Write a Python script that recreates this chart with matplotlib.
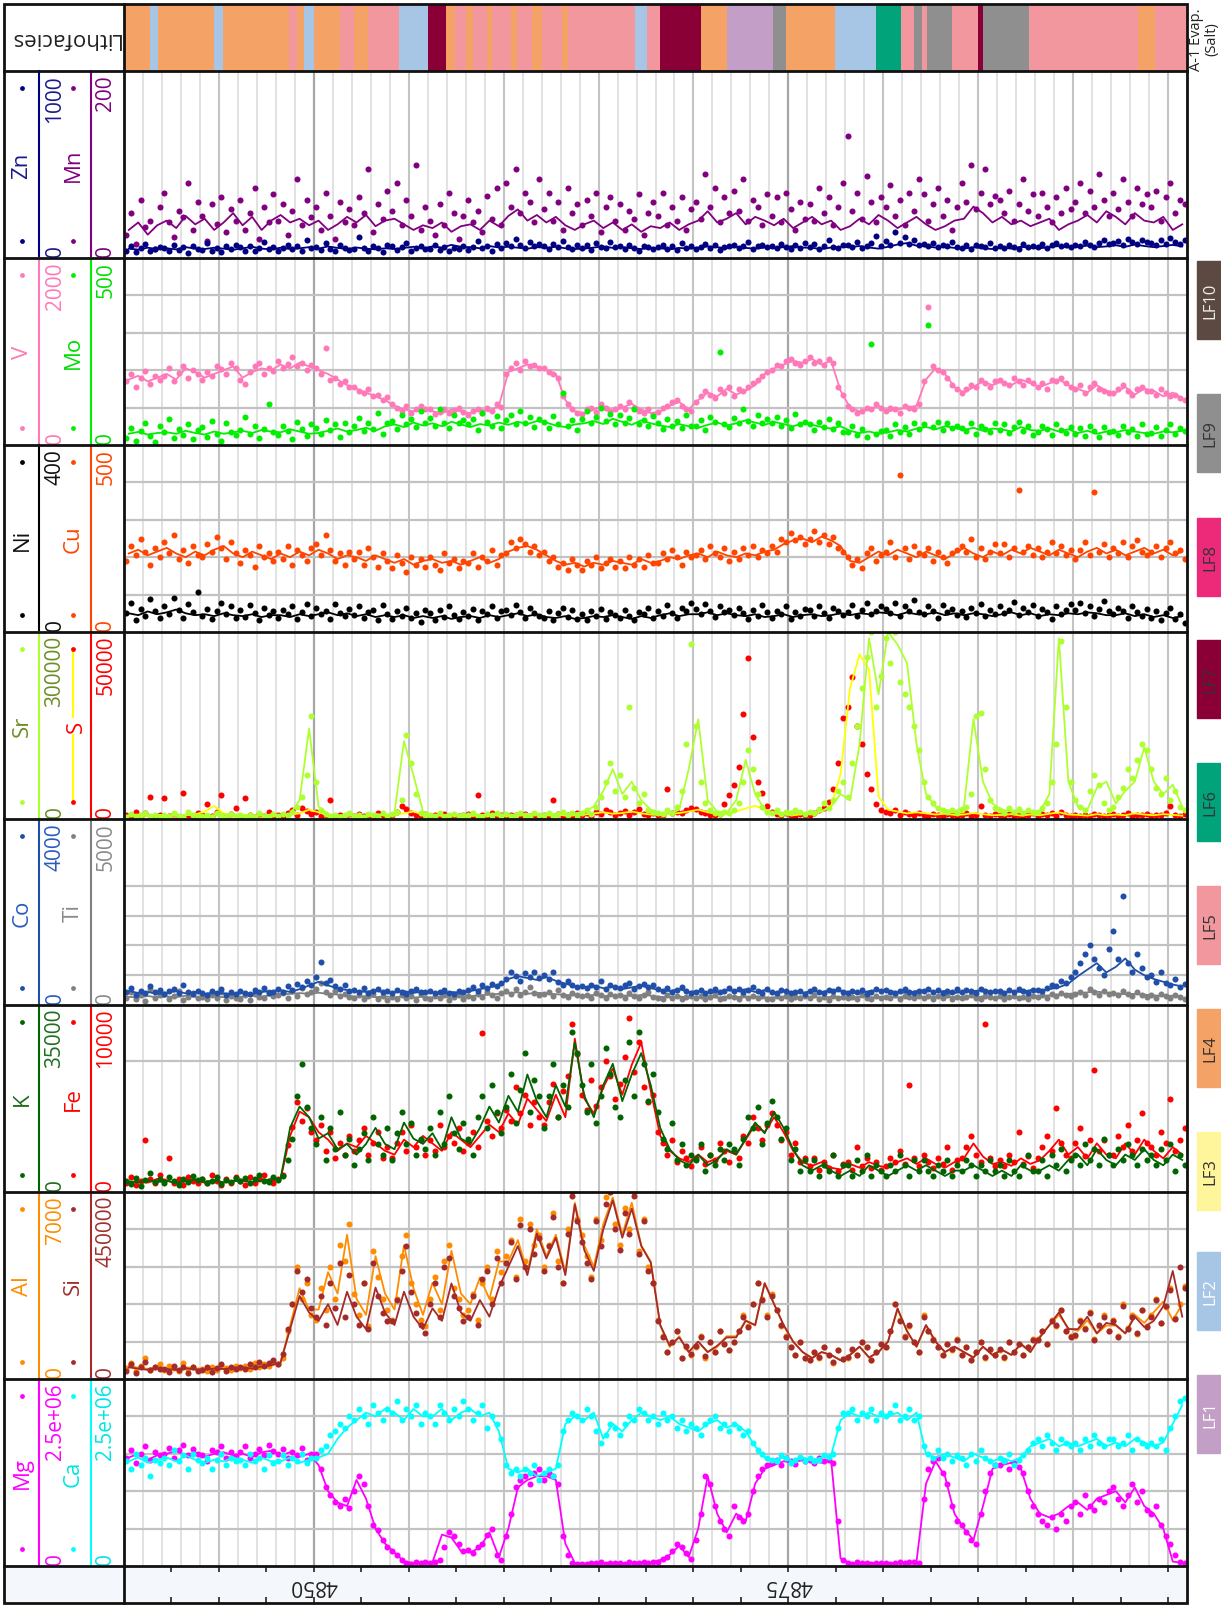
import numpy as np
import matplotlib
matplotlib.use('Agg')
import matplotlib.pyplot as plt
from matplotlib.patches import Rectangle

plt.rcParams['font.family'] = ['Open Sans', 'DejaVu Sans']

W, H = 1221, 1606
TOP_DEPTH, BASE_DEPTH = 4840, 4896

# ---------------- lithofacies log (top, base, facies) ----------------
facies_top = [4840.0, 4841.36, 4841.8, 4844.76, 4845.19, 4848.7, 4849.1, 4849.5, 4850.0, 4851.4,
              4852.1, 4852.86, 4854.48, 4855.99, 4856.97, 4857.45, 4858.0, 4858.4, 4859.1, 4859.4,
              4860.4, 4860.7, 4861.5, 4862.04, 4863.1, 4863.4, 4866.9, 4867.55, 4868.25, 4870.41,
              4871.76, 4874.19, 4874.89, 4877.43, 4879.59, 4880.94, 4881.64, 4882.02, 4882.3, 4883.64,
              4884.99, 4885.26, 4887.69, 4893.4, 4894.3]
facies_base = facies_top[1:] + [4896.0]
facies_code = ['LF4', 'LF2', 'LF4', 'LF2', 'LF4', 'LF5', 'LF4', 'LF2', 'LF4', 'LF5',
               'LF4', 'LF5', 'LF2', 'LF7', 'LF4', 'LF5', 'LF4', 'LF5', 'LF4', 'LF5',
               'LF4', 'LF5', 'LF4', 'LF5', 'LF4', 'LF5', 'LF2', 'LF5', 'LF7', 'LF4',
               'LF1', 'LF9', 'LF4', 'LF2', 'LF6', 'LF5', 'LF9', 'LF5', 'LF9', 'LF5',
               'LF7', 'LF9', 'LF5', 'LF4', 'LF5']
lf_names = ['LF10', 'LF9', 'LF8', 'LF7', 'LF6', 'LF5', 'LF4', 'LF3', 'LF2', 'LF1']
lf_colors = ['#5c4a42', '#8f8f8f', '#ec2a79', '#8a0036', '#00a37a', '#f3979f', '#f5a266', '#fff59a', '#a7c6e6', '#c39fc8']
lf_text = ['#eeeeee', '#333333', '#333333', '#333333', '#333333', '#333333', '#333333', '#333333', '#ffffff', '#ffffff']

# ---------------- track 1: Zn (0-1000), Mn (0-200) ----------------
zn_pts = [40,62,30,55,75,38,48,60, 52,35,70,44,58,28,66,50, 45,80,38,56,30,62,48,72, 58,40,66,35,52,88,46,60,
          36,55,70,48,62,40,95,52, 60,44,78,50,35,68,56,42, 48,110,55,40,65,52,30,70, 62,45,58,80,38,54,66,48,
          50,72,42,60,35,56,48,64, 44,58,90,52,66,40,74,56, 80,62,100,70,55,88,64,75, 66,50,74,58,92,60,48,70,
          54,68,45,78,60,52,84,58, 62,48,70,55,40,66,58,50, 58,72,50,64,45,80,56,62, 48,60,75,52,68,44,58,66,
          70,55,62,85,50,66,72,58, 64,52,76,60,48,70,56,82, 58,74,50,66,95,60,54,68, 72,60,84,56,66,78,120,64,
          90,70,140,82,110,76,95,68, 74,62,80,58,70,66,88,60, 56,68,50,72,62,58,80,54, 64,52,70,60,48,76,58,66,
          60,74,56,68,82,62,70,58, 70,64,88,72,60,80,96,74, 78,92,70,104,84,76,98,86, 82,70,96,76,108,88,74,94]
zn_line = [50,45,55,48, 52,46,58,50, 48,55,50,44, 52,60,50,46, 55,48,52,58, 50,62,54,48, 56,50,46,52,
           48,54,60,52, 62,56,70,60, 58,52,64,56, 60,55,50,58, 54,60,52,48, 50,56,62,54, 58,52,48,55,
           52,46,54,50, 56,62,58,52, 60,54,50,56, 52,58,64,56, 54,48,56,60, 58,64,56,50, 60,72,80,66,
           62,56,60,54, 50,58,52,48, 56,50,60,54, 52,58,64,56, 60,66,58,62, 68,60,72,64, 58,64,70,62]
mn_pts = [25,48,15,62,33,40,10,55, 70,38,22,50,44,80,30,60, 45,18,58,36,65,28,52,40, 62,30,48,75,20,55,38,68,
          40,58,25,50,85,35,62,44, 55,30,70,45,20,60,38,52, 35,65,48,95,28,58,42,72, 50,80,35,62,45,100,30,55,
          40,25,58,35,70,48,20,45, 62,38,50,28,66,42,75,35, 80,55,95,48,70,60,38,85, 52,70,40,60,30,75,48,58,
          35,62,45,70,28,55,65,40, 58,30,50,42,68,25,48,60, 45,70,35,55,40,65,30,52, 60,42,90,55,75,38,65,48,
          72,50,85,40,62,55,35,68, 45,65,38,70,52,30,60,42, 58,40,75,48,65,35,55,80, 130,50,70,42,88,60,38,65,
          55,78,45,62,35,70,50,85, 68,40,58,75,45,62,30,55, 80,60,100,52,70,95,58,66, 62,48,72,40,58,85,50,68,
          45,70,55,38,65,48,75,52, 60,80,48,72,55,90,62,45, 70,52,85,60,45,75,58,68, 55,72,40,65,80,48,62,58]
mn_line = [30,38,25,35, 40,32,45,36, 42,30,38,48, 35,44,30,40, 46,38,42,35, 40,30,36,44, 38,46,34,40,
           42,36,30,35, 32,38,28,34, 36,30,40,34, 45,52,40,46, 38,44,35,30, 36,40,32,38, 30,36,28,34,
           32,38,30,36, 40,50,38,42, 48,36,44,40, 35,42,32,38, 44,36,40,30, 34,42,36,46, 40,32,38,44,
           36,30,34,40, 42,55,48,38, 44,36,40,34, 38,42,30,36, 40,46,38,50, 44,36,48,40, 38,44,30,36]

# ---------------- track 2: V (0-2000), Mo (0-500) ----------------
v_pts = [680,760,620,720,790,650,740,700, 740,820,680,770,850,720,800,760, 700,780,740,850,810,760,880,820,
         700,650,780,840,880,760,820,790, 900,820,870,940,840,880,800,860, 820,760,1040,700,720,650,680,620,
         620,580,560,600,520,540,480,510, 440,400,360,420,340,380,420,390, 380,330,350,390,340,370,400,350,
         320,360,380,340,400,360,440,410, 760,820,880,800,900,840,860,820, 820,780,760,720,520,440,380,340,
         330,380,400,350,440,400,360,380, 420,380,460,400,360,340,380,320, 350,400,420,460,480,420,380,360,
         460,520,580,540,500,600,560,620, 520,600,580,620,660,700,740,780, 800,860,840,900,920,880,860,900,
         940,880,900,860,920,880,620,540, 420,380,340,360,400,380,440,400, 360,400,380,340,420,400,380,440,
         680,1480,840,800,780,720,640,600, 560,600,640,620,700,660,620,680, 700,660,640,720,680,640,700,660,
         620,660,600,700,680,720,660,620, 600,640,560,620,660,600,580,560, 560,600,640,580,540,600,620,580,
         580,540,600,560,520,540,500,480]
v_line = [700,740,680,720, 760,700,820,780, 720,760,800,840, 720,780,820,800, 860,820,880,840, 800,760,700,640,
          600,560,520,480, 420,380,360,400, 360,340,380,360, 340,380,360,420, 780,820,860,840, 800,760,480,360,
          340,380,420,360, 400,440,380,340, 360,420,460,380, 480,560,520,600, 540,580,640,760, 820,860,900,880,
          920,860,900,580, 400,360,380,420, 360,380,400,420, 700,820,760,620, 560,620,680,640, 680,640,700,660,
          620,660,700,640, 600,560,640,580, 560,620,540,600, 580,520,560,500]
mo_pts = [20,45,12,38,60,25,8,50, 35,70,18,42,28,55,15,40, 48,22,65,30,12,58,36,26, 40,75,30,52,20,44,110,35,
          28,50,38,15,62,42,24,55, 45,30,68,40,55,22,60,36, 50,72,38,60,44,85,30,58, 65,42,80,55,70,48,90,60,
          72,50,95,60,45,80,58,68, 55,70,40,85,62,50,78,45, 68,80,55,92,60,75,48,70, 62,45,78,55,140,50,68,40,
          70,90,58,75,100,65,82,55, 80,60,72,95,55,68,50,78, 58,42,70,50,65,45,80,52, 50,68,40,75,62,250,55,48,
          72,58,95,65,50,80,60,70, 60,75,50,68,45,82,55,62, 55,40,62,48,70,42,58,35, 35,50,28,42,22,270,30,38,
          40,25,55,35,48,30,60,42, 55,320,48,62,40,58,45,52, 45,38,60,30,52,42,35,58, 40,55,32,48,62,38,50,28,
          35,50,42,28,55,40,32,48, 30,45,25,52,38,22,48,35, 38,28,50,35,42,25,55,30, 32,48,25,40,55,30,45,38]
mo_line = [30,35,28,32, 34,30,38,32, 28,36,30,34, 38,32,40,36, 34,42,36,30, 32,38,44,36, 40,46,38,50,
           55,48,60,52, 58,50,62,55, 48,56,52,60, 54,62,56,64, 60,52,48,55, 58,64,56,70, 62,54,66,58,
           52,48,56,50, 46,54,60,52, 58,66,60,54, 62,56,50,58, 54,48,44,50, 38,32,36,30, 34,40,36,44,
           48,42,50,46, 40,46,38,44, 42,36,48,40, 38,44,36,42, 32,38,30,36, 34,40,36,32, 30,36,34,38]

# ---------------- track 3: Ni (0-400), Cu (0-500) ----------------
ni_pts = [40,62,25,50,35,70,45,30, 55,38,72,48,30,60,42,85, 35,50,28,45,62,38,55,30, 48,32,58,40,25,52,36,44,
          30,46,38,55,28,42,60,35, 52,38,45,28,60,40,34,50, 36,55,30,42,48,25,58,38, 28,45,35,52,30,40,22,46,
          40,25,48,32,55,36,28,42, 34,50,26,44,38,56,30,45, 48,36,58,42,30,52,40,35, 30,44,25,40,52,32,46,28,
          38,26,45,34,50,28,42,36, 30,48,35,25,42,38,52,30, 45,35,58,40,30,52,44,62, 50,38,60,45,32,55,42,48,
          36,52,40,28,46,34,58,42, 30,45,38,55,28,42,35,50, 48,34,56,40,30,52,44,36, 42,58,35,48,62,38,45,55,
          50,40,62,35,55,45,68,42, 38,55,45,30,58,42,50,36, 44,32,52,40,60,35,48,38, 55,40,48,65,36,52,42,58,
          35,50,42,28,55,38,46,60, 48,62,40,55,35,50,66,44, 38,52,45,30,56,42,35,50, 30,45,25,40,52,28,38,20]
ni_line = [40,36,44,38, 42,48,40,36, 38,34,40,36, 34,38,32,36, 36,32,38,34, 38,42,36,40, 34,38,32,36,
           32,36,30,34, 30,34,28,32, 34,30,36,32, 36,40,34,38, 32,30,34,28, 30,34,32,36, 32,28,34,30,
           36,40,34,38, 38,42,36,40, 36,34,38,32, 34,38,32,36, 38,34,36,40, 36,40,38,42, 40,36,42,38,
           38,42,36,40, 36,40,38,34, 38,42,36,40, 34,38,36,40, 38,42,40,36, 36,40,34,38, 32,36,30,34]
cu_pts = [190,230,205,250,215,180,225,200, 240,210,260,195,220,185,230,205, 200,235,215,255,225,195,240,210,
          185,220,205,175,230,200,210,190, 215,195,230,180,220,205,190,225, 235,205,260,220,190,210,180,215,
          195,215,180,225,200,175,210,190, 170,205,185,160,200,180,195,175, 200,180,165,210,185,195,170,190,
          185,210,175,200,190,220,180,205, 210,240,225,250,235,215,230,205, 215,190,200,175,185,165,195,180,
          165,190,180,200,170,185,195,175, 190,170,200,180,195,175,205,185, 185,210,195,220,200,180,215,200,
          205,220,195,230,210,200,225,190, 215,195,225,205,230,200,220,210, 230,215,250,240,265,245,255,235,
          250,270,240,260,235,255,225,215, 200,180,195,170,210,225,190,205, 215,240,200,420,225,195,230,210,
          205,225,190,215,200,185,210,220, 230,215,250,200,225,195,215,235, 210,235,200,225,380,215,230,205,
          225,200,215,240,210,230,205,220, 195,220,240,205,375,215,235,200, 225,210,240,200,230,245,215,205,
          215,230,200,225,240,210,220,195]
cu_line = [210,220,205,215, 225,210,200,215, 205,220,230,210, 200,215,205,195, 210,200,215,205, 220,210,195,205,
           200,190,205,195, 185,195,180,190, 195,185,190,180, 190,200,185,195, 215,225,230,220, 205,190,180,185,
           175,185,180,190, 185,180,195,185, 190,200,195,205, 210,200,215,205, 200,210,205,215, 220,235,245,250,
           240,255,245,230, 190,185,200,215, 205,220,210,200, 215,205,195,210, 225,210,200,215, 205,220,210,225,
           215,205,220,210, 200,215,225,210, 220,205,215,225, 210,220,205,215]

# ---------------- track 4: Sr (0-300000), S (0-50000), values in thousands ----------------
sr_pts_k = [4,8,3,6,10,5,7,4, 6,3,9,5,4,12,6,5, 5,7,4,10,6,3,8,5, 7,4,6,3,9,5,4,8,
            5,8,6,12,20,35,70,165, 60,15,8,5,7,4,6,9, 5,7,4,8,6,3,9,5, 8,12,30,135,90,40,10,6,
            7,5,9,4,6,8,5,7, 6,9,5,4,8,6,10,5, 8,5,7,10,6,4,9,6, 7,10,5,8,12,6,9,7,
            10,14,8,20,35,60,90,45, 70,35,180,50,25,40,15,12, 10,8,14,9,20,45,120,280, 150,60,25,15,10,8,12,9,
            14,25,60,110,80,40,20,12, 10,14,8,12,9,15,11,8, 12,9,16,25,18,30,45,60, 35,90,150,210,260,300,180,230,
            290,250,300,220,200,180,150,110, 60,35,25,18,15,12,14,10, 15,20,40,165,170,80,30,18, 14,10,18,12,16,9,14,11,
            12,18,25,60,120,285,180,60, 30,20,15,45,70,55,25,15, 20,35,50,80,65,95,120,110, 80,50,40,65,30,45,20,15]
sr_line_k = [5,6,5,7, 6,5,7,6, 5,6,8,6, 6,5,6,7, 6,8,30,145, 20,7,6,5, 6,5,8,6,
             10,125,70,12, 7,6,8,6, 6,7,5,8, 7,6,8,7, 6,8,7,9, 12,20,45,80, 40,60,30,15,
             10,8,15,80, 160,30,12,10, 30,95,40,15, 10,8,12,9, 10,12,20,40, 30,120,290,200, 300,280,250,120,
             40,20,15,12, 20,160,60,25, 15,12,10,12, 12,40,290,60, 20,15,50,60, 25,45,60,115, 60,40,55,20]
s_pts_k = [1.0,0.5,2.0,0.8,1.5,6.0,0.7,1.2, 5.5,0.9,1.4,0.6,7.0,1.1,0.8,1.6, 1.2,4.0,0.7,1.8,6.5,0.9,1.3,3.0,
           0.8,5.5,1.0,0.6,1.4,0.9,2.0,0.7, 1.1,0.8,1.6,2.4,1.0,3.0,2.2,1.4, 1.8,0.9,1.2,5.0,0.7,1.0,0.6,1.3,
           0.9,1.4,0.7,1.1,0.8,1.6,1.0,0.6, 1.2,2.0,3.5,2.8,1.6,1.0,0.8,1.3, 0.7,1.1,0.9,1.4,0.6,1.2,0.8,1.0,
           1.3,0.8,6.5,1.0,0.7,1.5,0.9,1.2, 0.8,1.2,1.0,0.7,1.4,0.9,1.1,0.6, 1.0,0.7,5.0,1.3,0.9,1.1,0.8,1.5,
           1.2,1.6,0.9,2.0,1.4,2.4,1.8,1.1, 1.5,2.2,1.0,1.8,2.6,1.3,1.0,1.6, 1.2,1.0,8.0,1.5,2.0,1.6,2.4,3.0,
           2.8,2.0,1.5,1.2,1.0,1.4,4.0,6.5, 9.0,14,28,43,22,10,7.0,3.5, 2.0,1.4,1.0,1.6,1.2,0.9,1.3,1.0,
           1.2,1.6,2.5,3.0,4.5,8.0,15,27, 30,38,25,20,12,8.0,4.0,2.5, 2.0,1.6,2.4,1.2,1.8,1.4,1.0,1.5,
           1.2,0.9,1.4,1.0,0.8,1.3,1.1,0.7, 1.0,1.5,0.8,1.2,3.5,1.0,0.9,1.3, 1.1,0.8,1.4,0.9,1.2,0.7,1.0,1.5,
           0.9,1.3,1.0,1.6,0.8,2.0,1.2,0.9, 1.0,0.7,1.2,0.9,1.4,1.1,0.8,1.0, 1.3,0.9,1.1,1.5,0.8,1.2,1.0,1.4,
           0.8,1.2,1.0,1.6,3.5,1.1,0.9,1.3]
s_line_k = [1.0,1.2,0.8,1.0, 1.1,0.9,1.0,1.2, 2.0,3.5,1.5,1.0, 1.2,0.8,1.0,0.9, 1.0,1.2,1.5,2.5, 1.8,1.0,0.9,1.1,
            1.0,0.8,1.2,1.0, 1.1,1.5,2.0,1.2, 1.0,0.9,1.1,1.0, 0.8,1.0,1.2,0.9, 1.0,1.1,0.9,1.2, 1.0,1.3,0.9,1.1,
            1.2,1.5,1.8,1.4, 1.6,2.0,1.5,1.2, 1.1,1.3,1.6,2.0, 2.5,1.8,1.4,1.6, 2.0,2.8,3.5,2.6, 1.5,1.2,1.0,1.3,
            1.5,2.0,3.5,12, 35,44,40,6, 2.5,2.0,1.5,1.8, 1.5,1.2,1.4,1.1, 1.2,1.6,1.3,1.0, 1.1,1.3,0.9,1.2,
            1.0,1.4,1.8,1.2, 1.1,0.9,1.3,1.0, 1.2,1.0,1.5,1.2, 1.0,1.3,1.1,0.9]

# ---------------- track 5: Co (0-4000), Ti (0-5000) ----------------
co_pts = [280,360,220,310,250,400,270,330, 240,300,350,260,420,280,230,310, 260,220,300,250,340,210,280,240,
          300,260,230,320,280,360,250,290, 340,280,400,320,460,380,520,440, 600,920,480,540,400,350,420,300,
          320,280,360,250,300,340,270,310, 260,320,280,240,300,350,270,290, 300,250,280,330,260,240,310,280,
          320,380,300,420,360,460,400,480, 560,700,620,520,680,600,720,580, 640,560,700,500,440,520,420,380,
          400,360,440,380,520,340,420,380, 360,420,480,340,400,460,380,420, 340,300,360,280,320,380,300,260,
          280,320,250,300,340,270,310,360, 300,350,280,320,380,300,260,340, 280,250,320,300,260,280,310,240,
          300,340,280,260,320,300,350,280, 260,300,280,320,240,280,340,300, 320,280,260,300,340,280,250,310,
          300,350,280,320,260,300,280,340, 280,320,300,260,340,300,280,310, 300,260,320,280,340,300,260,320,
          320,300,360,420,400,520,480,600, 700,900,1100,1300,1000,800,650,1200, 1600,1000,2350,900,700,1100,800,600,
          650,500,720,480,420,550,380,460]
co_line = [300,260,280,240, 260,300,250,280, 240,270,250,230, 260,240,280,300, 320,280,340,420, 500,420,360,320,
           300,280,320,260, 280,300,260,290, 260,240,280,260, 300,340,380,420, 560,620,580,540, 600,520,460,400,
           380,420,360,400, 340,380,420,360, 320,300,340,280, 300,260,280,320, 300,340,280,320, 260,300,280,260,
           300,280,320,300, 280,260,300,320, 300,280,260,300, 320,280,300,260, 280,300,320,280, 260,300,280,320,
           300,340,380,460, 620,760,900,700, 820,1000,760,640, 560,500,440,400]
ti_pts = [200,350,150,280,120,420,180,260, 300,160,240,380,140,220,320,180, 220,150,280,190,340,130,250,200,
          170,260,140,300,210,180,350,240, 260,320,200,380,240,460,300,350, 420,600,350,280,380,240,300,220,
          180,260,150,230,300,170,250,140, 220,160,280,190,240,130,300,200, 150,230,180,270,140,210,260,170,
          240,180,300,220,350,260,200,320, 380,300,420,260,350,480,320,280, 300,360,250,400,280,220,320,260,
          230,280,200,320,260,190,300,240, 260,200,330,240,180,280,350,220, 200,160,260,180,230,150,210,250,
          180,240,150,220,270,160,200,240, 220,170,280,200,250,180,230,160, 160,230,190,250,150,210,180,240,
          200,260,170,220,140,240,190,210, 180,220,150,260,200,170,230,190, 220,190,260,170,240,210,180,250,
          200,240,160,230,190,260,170,220, 180,220,260,200,150,240,210,190, 230,170,210,250,190,220,160,240,
          210,260,190,300,240,320,280,250, 300,360,280,420,340,260,380,300, 320,260,380,300,240,340,280,220,
          260,200,300,240,180,280,220,160]
ti_line = [220,200,240,210, 230,210,250,220, 200,230,210,240, 220,250,230,260, 280,300,320,300, 330,300,280,250,
           220,240,210,230, 210,230,200,220, 200,220,210,230, 240,260,280,300, 320,340,300,330, 310,290,270,260,
           250,270,240,260, 260,240,270,250, 220,210,230,200, 210,230,200,220, 220,210,230,200, 200,220,210,230,
           210,200,220,210, 200,220,210,200, 220,200,230,210, 210,230,200,220, 220,210,230,200, 210,220,200,230,
           240,260,280,300, 320,340,360,330, 310,290,300,280, 260,240,250,230]

# ---------------- track 6: K (0-35000), Fe (0-10000), values in thousands ----------------
k_pts_k = [2.0,1.5,2.6,1.2,2.2,3.5,1.8,2.4, 1.6,2.8,2.0,1.3,2.5,1.9,3.0,2.2, 2.4,1.7,2.1,2.9,1.5,2.3,1.8,2.6,
           2.0,2.7,1.6,2.4,3.2,2.1,1.9,2.8, 2.3,3.0,6,10,18,24,16,12, 9,14,6,12,8,15,7,10,
           5,8,11,6,14,9,7,12, 6,11,15,9,13,7,10,8, 12,7,15,9,18,11,8,13, 10,7,14,18,12,20,15,11,
           16,22,13,19,26,15,21,18, 12,18,24,14,20,16,30,26, 20,15,24,13,18,27,22,16, 14,21,28,18,30,24,17,22,
           15,10,8,13,6,9,5,7, 6,9,4,7,5,8,6,9, 8,5,10,14,12,16,9,13, 17,14,10,12,6,8,4,6,
           4,6,3,5,4,7,3,5, 5,3,6,4,7,3,5,4, 3,5,4,7,5,3,6,4, 6,4,3,5,4,6,3,5,
           4,6,5,3,5,4,6,4, 5,3,6,4,3,5,7,4, 4,6,3,7,5,8,4,6, 7,5,9,6,8,5,10,7,
           5,8,6,9,7,5,8,6, 7,5,8,6,9,4,7,5]
k_line_k = [2.0,1.8,2.2,1.9, 2.1,1.7,2.0,2.3, 1.9,2.2,1.8,2.0, 2.2,1.9,2.1,2.4, 2.5,12,16,14, 10,11,8,9,
            7,9,12,9, 8,13,10,9, 11,8,14,10, 9,12,16,13, 18,15,22,17, 14,20,16,28, 18,14,20,24, 17,22,26,20,
            12,8,6,5, 7,5,6,8, 7,10,13,11, 15,12,8,5, 4,5,4,3, 4,3,5,4, 3,4,5,4, 5,4,3,4,
            4,5,4,3, 4,3,5,4, 4,5,4,6, 7,5,8,6, 5,7,6,8, 6,5,7,6]
fe_pts_k = [0.5,0.8,0.4,0.6,2.8,0.7,0.5,0.9, 0.6,1.8,0.5,0.7,0.4,0.8,0.6,0.5, 0.7,0.5,0.9,0.6,0.4,0.7,0.5,0.8,
            0.6,0.4,0.8,0.5,0.7,0.9,0.6,0.5, 0.7,0.9,2.5,3.5,4.8,3.8,4.5,3.2, 2.8,3.6,2.2,3.2,1.8,2.6,2.0,3.0,
            2.2,2.8,3.4,2.0,2.6,3.2,1.8,2.4, 1.8,2.6,3.2,2.2,3.6,2.4,2.8,2.0, 2.8,2.2,3.6,2.4,3.0,2.6,3.4,2.2,
            2.6,3.2,2.4,8.5,3.8,3.0,4.2,3.4, 4.4,3.8,5.6,4.2,5.2,3.6,4.8,4.0, 3.6,4.8,5.8,4.0,5.4,6.2,9.0,7.4,
            5.2,4.4,6.0,4.6,5.6,7.0,6.2,5.0, 5.8,7.2,9.3,6.4,8.0,5.6,4.8,5.2, 3.2,2.6,2.0,2.8,1.6,2.2,1.8,1.4,
            1.8,2.4,1.5,2.0,1.7,2.6,2.2,1.6, 2.2,1.8,3.0,2.6,4.0,3.4,2.8,3.6, 4.2,3.6,2.8,3.2,2.0,2.6,1.6,1.8,
            1.4,1.8,1.2,1.6,1.3,2.0,1.1,1.5, 1.6,1.2,2.4,1.4,1.8,1.3,1.6,1.2, 1.4,1.8,1.6,2.2,1.5,5.7,1.8,1.4,
            2.0,1.6,1.3,1.8,1.5,2.4,1.2,1.7, 1.8,2.4,3.0,2.0,1.6,9.0,1.8,1.4, 1.7,1.4,2.0,1.6,3.2,1.5,1.9,1.3,
            1.8,2.4,3.0,2.2,4.5,2.6,2.0,1.8, 2.6,3.4,1.9,2.8,6.5,2.2,2.8,2.0, 2.0,3.0,2.4,3.6,2.2,2.8,4.2,2.6,
            2.4,2.0,3.2,2.6,5.0,2.2,2.8,3.4]
fe_line_k = [0.5,0.6,0.5,0.7, 0.6,0.5,0.7,0.6, 0.5,0.6,0.5,0.6, 0.6,0.5,0.7,0.6, 0.7,3.0,4.3,4.0, 3.2,2.8,2.2,2.6,
             2.4,3.0,2.6,2.2, 2.0,2.8,2.4,3.0, 2.6,2.2,3.2,2.8, 2.4,3.0,3.6,3.2, 4.2,3.6,5.0,4.4, 3.8,5.2,4.0,8.2,
             5.0,4.2,5.6,6.6, 5.2,6.8,8.0,5.4, 3.0,2.2,1.8,1.6, 2.0,1.6,1.8,2.2, 2.0,2.8,3.6,3.2, 4.0,3.2,2.2,1.6,
             1.4,1.6,1.3,1.2, 1.5,1.3,1.6,1.4, 1.3,1.6,1.8,1.5, 1.8,1.5,1.3,1.6, 1.8,2.6,1.9,1.5, 1.6,1.4,1.8,1.5,
             1.7,2.2,2.8,2.0, 2.4,1.8,2.6,2.0, 1.8,2.6,2.0,2.8, 2.2,1.8,2.4,2.0]

# ---------------- track 7: Al (0-7000), Si (0-450000, in thousands) ----------------
al_pts = [400,600,300,500,800,350,450,550, 350,500,420,300,600,380,450,320, 380,300,450,350,520,400,320,480,
          420,500,380,600,450,550,480,650, 550,800,1800,2800,4200,3000,3600,2400, 2200,3400,2600,4200,3000,5000,4400,5800,
          3200,2400,3600,2000,4800,3800,3000,2600, 2200,3000,4600,5400,3600,2800,2200,2000, 3000,3800,2600,4400,5000,3400,3000,2400,
          2600,3200,2200,3600,4200,3000,4800,4000, 4600,5200,3800,6000,4400,5800,5000,5400, 4200,5000,6200,4400,3600,5600,7000,6000,
          5400,4600,3800,6000,5200,6800,7000,5800, 5000,6400,5600,7000,4800,6000,4200,3600, 2200,1600,1000,1400,1800,800,1200,900,
          1200,1600,800,1400,1000,1800,1300,1100, 1400,1800,2400,2000,2800,3600,3000,2400, 3200,2600,2000,1600,1200,900,1400,800,
          700,1000,800,1200,900,600,1100,750, 800,1100,900,1400,1200,700,1000,1300, 1200,1800,2800,2200,1600,2000,1400,1000,
          2400,1800,1500,1200,900,1300,1100,1500, 900,1200,700,1000,1400,800,1100,900, 1100,800,1400,1000,1300,900,1200,1500,
          1500,1800,1300,2200,2000,2600,1800,1600, 1600,2200,1900,2500,1500,2000,2400,1800, 2200,1600,2800,1900,2400,1700,2600,2000,
          2400,3000,2100,2700,3400,2300,2800,3500]
al_line = [500,420,380,450, 400,360,420,380, 350,400,380,420, 450,400,480,520, 600,2000,3400,2600, 2600,4000,3200,5400,
           3000,2400,4600,3200, 2600,5000,3400,2400, 3600,2800,4800,3200, 2800,3800,3000,4400, 4400,5200,4000,5600, 4600,5400,4000,6600,
           5000,4200,5800,6800, 5400,6600,5000,4400, 2000,1200,1600,1000, 1400,1000,1200,1600, 1600,2200,2000,3600, 2800,2000,1400,1000,
           800,1000,900,700, 900,1200,800,1000, 1400,2600,1800,1200, 2000,1400,1000,1200, 1000,800,1200,900, 1100,900,1300,1000,
           1600,2000,2400,1900, 1800,2200,1700,2000, 2000,1700,2400,2100, 2500,2900,2200,2800]
si_pts_k = [20,35,15,28,40,22,30,25, 25,18,32,22,28,15,30,20, 22,30,18,26,35,20,28,24, 30,25,35,28,40,32,38,45,
            35,60,120,180,260,210,240,170, 150,200,130,230,170,280,150,250, 180,130,230,120,280,200,160,140, 140,190,260,320,210,160,130,110,
            180,230,150,270,290,200,170,140, 150,200,130,240,260,180,290,230, 280,330,240,370,270,360,300,340, 260,320,390,270,230,350,440,380,
            330,280,240,380,320,420,450,360, 310,400,350,440,300,380,260,230, 140,100,65,90,115,50,80,60, 80,100,55,90,65,115,85,70,
            90,115,150,125,180,230,190,150, 200,165,130,100,78,58,90,50, 45,65,52,78,58,40,70,48, 52,72,58,90,78,45,65,85,
            78,115,180,140,100,130,90,65, 150,115,95,78,58,85,72,95, 58,78,45,65,90,52,72,58, 72,52,90,65,85,58,78,95,
            95,115,85,140,130,165,115,100, 105,140,120,160,95,130,150,115, 140,100,175,120,150,110,165,125, 150,190,135,175,215,145,270,220]
si_line_k = [28,25,22,26, 24,22,26,23, 22,25,24,27, 28,25,30,33, 40,120,200,160, 140,180,130,210,
             150,120,220,160, 130,210,150,120, 170,140,230,160, 140,190,150,220, 270,320,250,350, 290,340,250,420,
             310,260,360,430, 340,410,320,280, 130,80,100,65, 90,65,80,100, 100,140,130,230, 180,130,90,65,
             50,65,58,45, 58,78,52,65, 90,170,115,78, 130,90,65,78, 65,52,78,58, 70,58,85,65,
             100,130,160,120, 120,150,110,135, 130,110,150,125, 140,175,260,150]

# ---------------- track 8: Mg (0-2.5e6), Ca (0-2.5e6), values in thousands ----------------
mg_pts_k = [1450,1550,1380,1500,1600,1420,1520,1480, 1500,1580,1450,1550,1620,1480,1560,1500, 1480,1400,1550,1520,1600,1450,1530,1470,
            1520,1600,1440,1500,1560,1480,1620,1540, 1500,1560,1450,1520,1480,1580,1420,1500, 1500,1300,1050,950,850,800,900,780,
            1000,1200,1100,800,550,480,350,250, 200,150,80,40,30,50,40,60, 45,60,80,250,450,400,300,200,
            220,180,250,300,420,500,150,80, 400,700,1050,1150,1200,1100,1250,1300, 1150,1250,1200,1100,400,150,40,30,
            30,25,40,35,50,30,45,35, 40,30,55,35,45,60,40,50, 60,90,120,200,300,250,180,100, 350,700,1200,1100,800,600,500,400,
            800,650,600,700,1000,1200,1300,1350, 1380,1420,1350,1450,1400,1360,1440,1400, 1420,1380,1450,1400,1420,1380,600,80,
            40,30,50,35,45,30,40,35, 40,30,45,55,35,50,60,45, 900,1300,1400,1450,1250,1100,800,600, 550,450,350,300,700,1000,1250,1350,
            1350,1400,1300,1380,1320,1250,1000,800, 700,600,550,650,500,700,600,800, 850,700,950,800,750,900,850,1000,
            1050,900,800,950,1100,850,1000,750, 700,800,550,400,300,150,50,40]
mg_line_k = [1450,1500,1420,1480, 1500,1540,1480,1520, 1460,1500,1520,1480, 1500,1460,1520,1540, 1480,1520,1460,1500,
             1350,1000,850,800, 1150,900,500,300, 180,60,40,45, 50,420,380,200, 180,250,450,120,
             500,1050,1150,1200, 1200,1150,300,40, 30,35,40,30, 35,40,50,45, 80,150,270,120,
             500,1200,700,450, 700,600,1100,1300, 1350,1400,1380,1420, 1400,1380,1420,100, 40,30,45,35,
             40,35,50,60, 1100,1400,1200,700, 500,350,800,1300, 1350,1380,1300,900, 700,650,700,800,
             850,750,900,950, 1000,850,1050,800, 700,500,60,40]
ca_pts_k = [1400,1300,1500,1350,1450,1200,1420,1380, 1450,1350,1550,1400,1480,1300,1500,1420, 1380,1450,1300,1420,1500,1350,1450,1400,
            1420,1350,1500,1400,1450,1300,1480,1380, 1400,1480,1350,1450,1400,1500,1380,1450, 1450,1550,1600,1750,1800,1900,1850,2000,
            1950,2100,2000,1900,2150,2050,1950,2100, 2050,2200,1950,2100,2000,2150,1900,2050, 2000,1900,2150,2050,1950,2100,2000,2200,
            2100,1950,2050,2150,1850,2000,1900,1700, 1350,1250,1300,1200,1300,1250,1350,1150, 1250,1300,1200,1350,1800,1950,2050,2000,
            1950,2100,2000,1800,1650,1750,1900,1850, 1750,1900,2000,1950,2100,2050,1950,2000, 1900,2050,1950,2000,1850,1950,1800,1900,
            1850,1750,1900,1950,2000,1850,1900,1800, 1900,1850,1750,1800,1650,1550,1500,1450, 1420,1400,1480,1450,1380,1420,1460,1400,
            1450,1400,1420,1480,1460,1500,1850,2050, 2050,2100,1950,2050,2000,2100,1950,2050, 2000,2050,2150,1950,2000,2100,1950,2000,
            1600,1500,1450,1550,1450,1500,1400,1480, 1450,1350,1500,1400,1550,1450,1400,1350, 1450,1400,1500,1350,1420,1480,1550,1650,
            1700,1600,1750,1650,1550,1700,1650,1600, 1650,1550,1700,1600,1750,1650,1600,1700, 1700,1600,1650,1750,1550,1700,1650,1600,
            1650,1600,1700,1550,1850,2000,2200,2250]
ca_line_k = [1400,1450,1380,1420, 1450,1400,1480,1420, 1380,1420,1400,1450, 1420,1380,1450,1400, 1400,1450,1380,1420,
             1450,1500,1700,1850, 1950,2050,2000,2100, 2050,1950,2100,2000, 2000,2100,1950,2050, 2100,2000,2050,1800,
             1300,1250,1300,1200, 1250,1300,1900,2000, 1950,2050,1700,1900, 1800,1950,2050,2000, 1950,2000,1900,1850,
             1800,1900,1950,1850, 1900,1800,1600,1450, 1420,1450,1400,1450, 1420,1450,1480,1950, 2050,2000,2050,2000,
             2000,2050,1950,2050, 1500,1450,1500,1450, 1400,1500,1450,1400, 1450,1400,1450,1600, 1650,1700,1600,1650,
             1600,1650,1700,1600, 1650,1600,1700,1650, 1600,1650,1900,2150]

# track layout in pixels (top, bottom)
track_rows = [(72, 259), (259, 446), (446, 633), (633, 820), (820, 1006), (1006, 1193), (1193, 1380), (1380, 1567)]
PX_L, PX_R, HDR_L = 124, 1187, 4
LITHO_TOP, DEPTH_BOT = 5, 1604

th = np.array
tracks = [
    # name, pts, line, max, max label, dot colour, text colour, line colour
    [('Zn', th(zn_pts), th(zn_line), 1000, '1000', '#000080', '#1a1a8c', '#000080'),
     ('Mn', th(mn_pts), th(mn_line), 200, '200', '#800080', '#800080', '#800080'), 'A'],
    [('V', th(v_pts), th(v_line), 2000, '2000', '#ff78b8', '#ff78b8', '#ff78b8'),
     ('Mo', th(mo_pts), th(mo_line), 500, '500', '#00ee00', '#00dd00', '#00ee00'), 'B'],
    [('Ni', th(ni_pts), th(ni_line), 400, '400', '#000000', '#111111', '#000000'),
     ('Cu', th(cu_pts), th(cu_line), 500, '500', '#ff4500', '#ff4500', '#ff4500'), 'B'],
    [('Sr', th(sr_pts_k) * 1000, th(sr_line_k) * 1000, 300000, '300000', '#adff2f', '#6b8e23', '#adff2f'),
     ('S', th(s_pts_k) * 1000, th(s_line_k) * 1000, 50000, '50000', '#ff0000', '#ff0000', '#ffff00'), 'A'],
    [('Co', th(co_pts), th(co_line), 4000, '4000', '#1f4fa8', '#2a5cc0', '#1f4fa8'),
     ('Ti', th(ti_pts), th(ti_line), 5000, '5000', '#808080', '#8a8a8a', '#808080'), 'A'],
    [('K', th(k_pts_k) * 1000, th(k_line_k) * 1000, 35000, '35000', '#006400', '#1e6e1e', '#006400'),
     ('Fe', th(fe_pts_k) * 1000, th(fe_line_k) * 1000, 10000, '10000', '#ff0000', '#ff0000', '#ff0000'), 'A'],
    [('Al', th(al_pts), th(al_line), 7000, '7000', '#ff8c00', '#ff8c00', '#ff8c00'),
     ('Si', th(si_pts_k) * 1000, th(si_line_k) * 1000, 450000, '450000', '#a52a2a', '#a03030', '#a52a2a'), 'B'],
    [('Mg', th(mg_pts_k) * 1000, th(mg_line_k) * 1000, 2.5e6, '2.5e+06', '#ff00ff', '#ff00ff', '#ff00ff'),
     ('Ca', th(ca_pts_k) * 1000, th(ca_line_k) * 1000, 2.5e6, '2.5e+06', '#00ffff', '#00e5e5', '#00ffff'), 'B'],
]

fig = plt.figure(figsize=(W / 100, H / 100), dpi=100)


def px_axes(x0, y0, x1, y1, z=1):
    return fig.add_axes([x0 / W, 1 - y1 / H, (x1 - x0) / W, (y1 - y0) / H], zorder=z)


def depths_for(vals):  # samples sit at regular depth steps across the interval
    n = len(vals)
    return TOP_DEPTH + (np.arange(n) + 0.5) * (BASE_DEPTH - TOP_DEPTH) / n


def draw_grid(ax, ymax):
    for d in range(TOP_DEPTH, BASE_DEPTH + 1):
        if d % 25 == 0:
            c, lw = '#a6a6a6', 1.6
        elif d % 5 == 0:
            c, lw = '#c4c4c4', 1.5
        else:
            c, lw = '#e2e2e2', 1.4
        ax.axvline(d, color=c, lw=lw, zorder=0)
    for y in np.linspace(0, ymax, 6)[1:-1]:
        ax.axhline(y, color='#c2c2c2', lw=1.6, zorder=0)


def draw_curve(ax, c, order):
    name, pts, line, vmax, lab, col, tcol, lcol = c
    ax.set_xlim(TOP_DEPTH, BASE_DEPTH)
    ax.set_ylim(0, vmax)
    ax.axis('off')
    ax.scatter(depths_for(pts), pts, s=19, color=col, linewidths=0, zorder=2 + order)
    ax.plot(depths_for(line), line, color=lcol, lw=1.3, zorder=3 + order)


# ---------------- lithofacies strip ----------------
lax = px_axes(PX_L, LITHO_TOP, PX_R, 72)
lax.set_xlim(TOP_DEPTH, BASE_DEPTH)
lax.set_ylim(0, 1)
lax.axis('off')
fc = dict(zip(lf_names, lf_colors))
for t, b, code in zip(facies_top, facies_base, facies_code):
    lax.axvspan(t, b, color=fc[code], lw=0)

# ---------------- tracks ----------------
for (top, bot), (ca, cb, front) in zip(track_rows, tracks):
    back_ax = px_axes(PX_L, top, PX_R, bot)
    front_ax = back_ax.twinx()
    draw_grid(back_ax, ca[3])
    if front == 'A':
        draw_curve(back_ax, cb, 0)
        draw_curve(front_ax, ca, 1)
    else:
        draw_curve(back_ax, ca, 0)
        draw_curve(front_ax, cb, 1)

# ---------------- depth strip ----------------
dax = px_axes(PX_L, 1567, PX_R, DEPTH_BOT)
dax.set_facecolor('#f4f7fc')
dax.set_xlim(TOP_DEPTH, BASE_DEPTH)
dax.set_ylim(0, 1)
dax.set_xticks(np.arange(4842.5, BASE_DEPTH, 2.5))
dax.set_yticks([])
dax.tick_params(axis='x', which='both', direction='in', length=4, width=1.2,
                top=True, bottom=True, labelbottom=False, labeltop=False, color='#222222')
for s in dax.spines.values():
    s.set_visible(False)
for d in [4850, 4875]:
    dax.text(d, 0.5, str(d), rotation=180, ha='center', va='center', fontsize=15, color='#222222')

# ---------------- overlay: headers, frames, legend ----------------
ov = fig.add_axes([0, 0, 1, 1], zorder=10)
ov.set_xlim(0, W)
ov.set_ylim(H, 0)
ov.axis('off')

ov.add_patch(Rectangle((HDR_L, 1567), PX_L - HDR_L, DEPTH_BOT - 1567, color='#f4f7fc', zorder=0))
ov.text((HDR_L + PX_L) / 2, (LITHO_TOP + 72) / 2, 'Lithofacies', rotation=180, ha='center', va='center',
        fontsize=16, color='#222222')

for (top, bot), (ca, cb, front) in zip(track_rows, tracks):
    mid = (top + bot) / 2
    for c, xd, xl, xn in [(ca, 22, 39, 55), (cb, 73, 91, 106)]:
        name, pts, line, vmax, lab, col, tcol, lcol = c
        line_col = '#ff0000' if name == 'S' else col
        ov.plot([xl, xl], [top, bot], color=line_col, lw=1.5, zorder=1)
        ov.scatter([xd, xd], [top + 17, bot - 17], s=12, color=col, linewidths=0, zorder=3)
        if name == 'S':
            ov.plot([xd, xd], [top + 17, mid - 9], color='#ffff00', lw=1.5, zorder=2)
            ov.plot([xd, xd], [mid + 9, bot - 17], color='#ffff00', lw=1.5, zorder=2)
        ov.text(xd + (3 if name == 'S' else 0), mid, name, rotation=90, ha='center', va='center',
                fontsize=16, color=tcol)
        ov.text(xn, top + 3, lab, rotation=90, ha='center', va='top', fontsize=15, color=tcol)
        ov.text(xn, bot - 2, '0', rotation=90, ha='center', va='bottom', fontsize=15, color=tcol)

# frame lines
ov.add_patch(Rectangle((HDR_L, LITHO_TOP), PX_R - HDR_L, DEPTH_BOT - LITHO_TOP, fill=False, lw=2, ec='#111111', zorder=5))
ov.plot([PX_L, PX_L], [LITHO_TOP, DEPTH_BOT], color='#111111', lw=2, zorder=5)
for y in [72] + [b for _, b in track_rows]:
    ov.plot([HDR_L, PX_R], [y, y], color='#111111', lw=2, zorder=5)

# lithofacies legend on the right
lf_box_top = [262, 395, 519, 641, 764, 887, 1010, 1133, 1253, 1376]
for name, col, tcol, y0 in zip(lf_names, lf_colors, lf_text, lf_box_top):
    ov.add_patch(Rectangle((1197, y0), 26, 78, color=col, zorder=4))
    ov.text(1210, y0 + 39, name, rotation=90, ha='center', va='center', fontsize=12, color=tcol, zorder=6)
ov.text(1204, 8, 'A-1 Evap.\n(Salt)', rotation=90, ha='center', va='top', fontsize=10.5,
        color='#222222', linespacing=1.0)

fig.savefig('out.png', dpi=100)
